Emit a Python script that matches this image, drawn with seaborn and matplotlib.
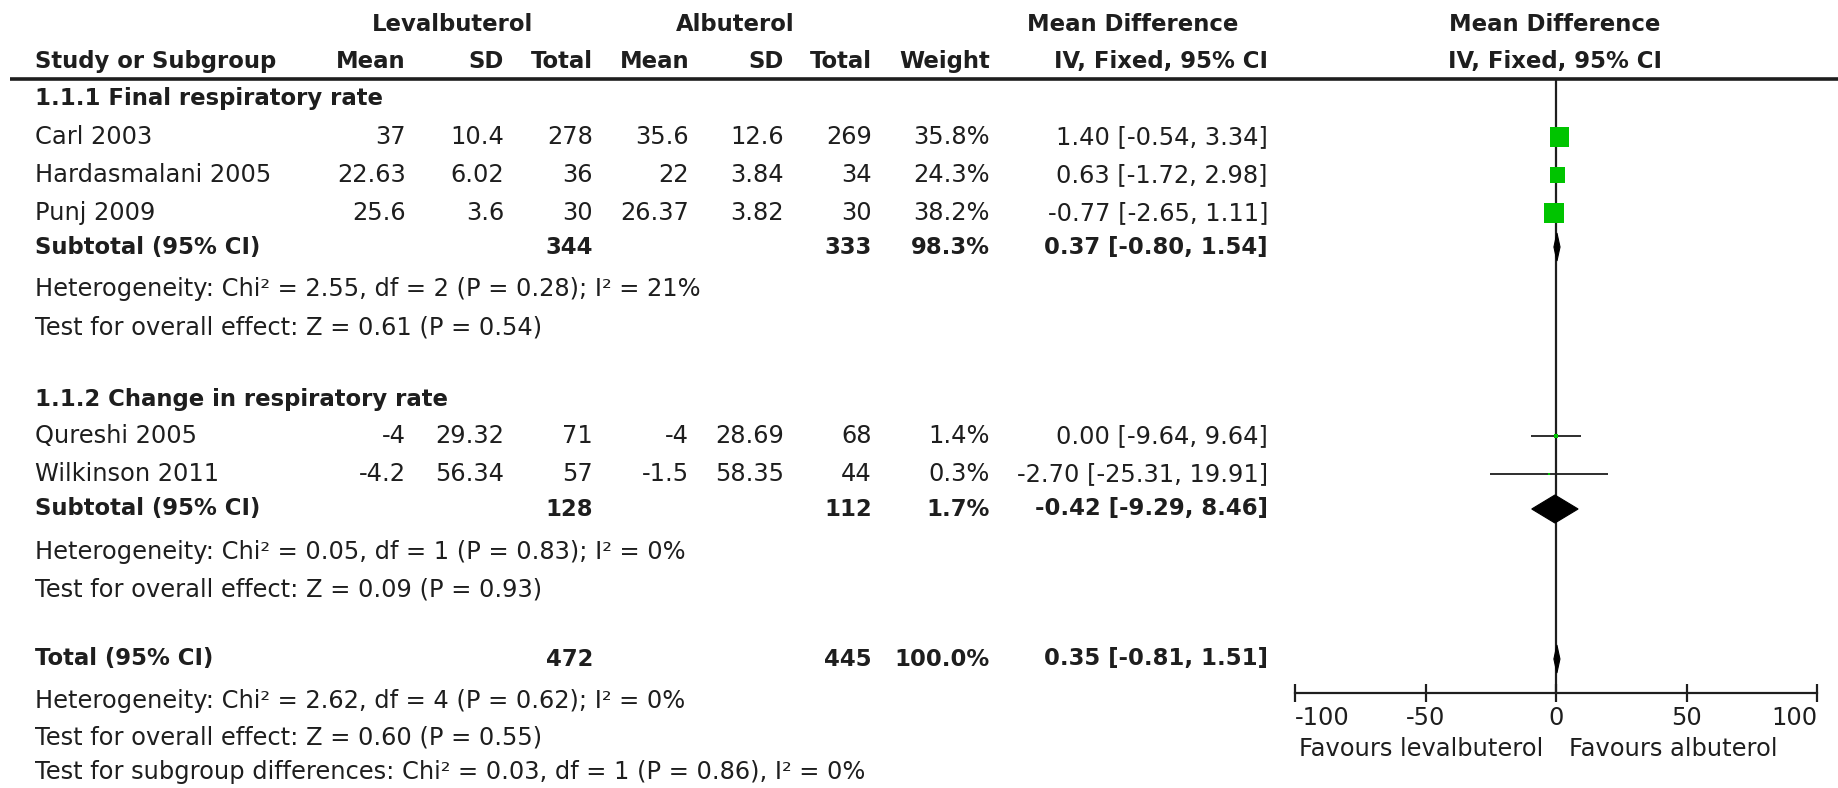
import matplotlib
matplotlib.use('Agg')
import matplotlib.pyplot as plt
import seaborn as sns
import numpy as np
import pandas as pd

# Study level data
studies = ['Carl 2003', 'Hardasmalani 2005', 'Punj 2009', 'Qureshi 2005', 'Wilkinson 2011']
subgroup = [0, 0, 0, 1, 1]
lev_mean = [37, 22.63, 25.6, -4, -4.2]
lev_sd = [10.4, 6.02, 3.6, 29.32, 56.34]
lev_n = [278, 36, 30, 71, 57]
alb_mean = [35.6, 22, 26.37, -4, -1.5]
alb_sd = [12.6, 3.84, 3.82, 28.69, 58.35]
alb_n = [269, 34, 30, 68, 44]
weight = [35.8, 24.3, 38.2, 1.4, 0.3]
md = [1.40, 0.63, -0.77, 0.00, -2.70]
md_lo = [-0.54, -1.72, -2.65, -9.64, -25.31]
md_hi = [3.34, 2.98, 1.11, 9.64, 19.91]

# Subgroup and overall pooled results
group_names = ['1.1.1 Final respiratory rate', '1.1.2 Change in respiratory rate']
sub_lev_n = [344, 128]
sub_alb_n = [333, 112]
sub_weight = [98.3, 1.7]
sub_md = [0.37, -0.42]
sub_lo = [-0.80, -9.29]
sub_hi = [1.54, 8.46]
sub_het = ['Heterogeneity: Chi² = 2.55, df = 2 (P = 0.28); I² = 21%',
           'Heterogeneity: Chi² = 0.05, df = 1 (P = 0.83); I² = 0%']
sub_test = ['Test for overall effect: Z = 0.61 (P = 0.54)',
            'Test for overall effect: Z = 0.09 (P = 0.93)']

tot_lev_n = 472
tot_alb_n = 445
tot_weight = 100.0
tot_md = 0.35
tot_lo = -0.81
tot_hi = 1.51
tot_notes = ['Heterogeneity: Chi² = 2.62, df = 4 (P = 0.62); I² = 0%',
             'Test for overall effect: Z = 0.60 (P = 0.55)',
             'Test for subgroup differences: Chi² = 0.03, df = 1 (P = 0.86), I² = 0%']

xticks = [-100, -50, 0, 50, 100]
favours = ['Favours levalbuterol', 'Favours albuterol']

sns.set_theme(style='white')
plt.rcParams['font.family'] = ['DejaVu Sans']
plt.rcParams['axes.unicode_minus'] = False

W, H = 1838, 788
fig = plt.figure(figsize=(W / 100, H / 100), dpi=100)
ax = fig.add_axes([0, 0, 1, 1])
ax.set_xlim(0, W)
ax.set_ylim(H, 0)
ax.axis('off')

txt = '#1e1e1e'
green = '#00c400'
fs = 17.4
fsb = 16.4

# layout (pixel positions of table columns and rows)
x_name = 35
col_right = [406, 504, 593, 689, 784, 872, 990, 1268]
y_head1, y_head2, y_rule = 24, 61, 79
group_rows = [
    {'head': 98, 'studies': [137, 175, 213], 'sub': 247, 'het': 289, 'test': 327},
    {'head': 399, 'studies': [436, 474], 'sub': 509, 'het': 552, 'test': 589},
]
y_total = 659
y_tot_notes = [701, 737, 772]

# headers
bold = dict(fontsize=fsb, fontweight='bold', color=txt, va='center')
ax.text(453, y_head1, 'Levalbuterol', ha='center', **bold)
ax.text(735, y_head1, 'Albuterol', ha='center', **bold)
ax.text(1133, y_head1, 'Mean Difference', ha='center', **bold)
ax.text(1555, y_head1, 'Mean Difference', ha='center', **bold)
ax.text(x_name, y_head2, 'Study or Subgroup', ha='left', **bold)
for x, lab in zip(col_right, ['Mean', 'SD', 'Total', 'Mean', 'SD', 'Total', 'Weight',
                              'IV, Fixed, 95% CI']):
    ax.text(x, y_head2, lab, ha='right', **bold)
ax.text(1555, y_head2, 'IV, Fixed, 95% CI', ha='center', **bold)
ax.plot([10, W], [y_rule, y_rule], color=txt, lw=2.6, solid_capstyle='butt')

reg = dict(fontsize=fs, color=txt, va='center')


def ci_text(m, lo, hi):
    return f'{m:.2f} [{lo:.2f}, {hi:.2f}]'


study_y = []
sub_y = []
for g, rows in enumerate(group_rows):
    ax.text(x_name, rows['head'], group_names[g], ha='left', **bold)
    idx = [i for i, s in enumerate(subgroup) if s == g]
    for i, y in zip(idx, rows['studies']):
        study_y.append(y)
        vals = [f'{lev_mean[i]:g}', f'{lev_sd[i]:g}', f'{lev_n[i]}',
                f'{alb_mean[i]:g}', f'{alb_sd[i]:g}', f'{alb_n[i]}',
                f'{weight[i]:.1f}%', ci_text(md[i], md_lo[i], md_hi[i])]
        ax.text(x_name, y, studies[i], ha='left', **reg)
        for x, v in zip(col_right, vals):
            ax.text(x, y, v, ha='right', **reg)
    ys = rows['sub']
    sub_y.append(ys)
    ax.text(x_name, ys, 'Subtotal (95% CI)', ha='left', **bold)
    ax.text(col_right[2], ys, f'{sub_lev_n[g]}', ha='right', **bold)
    ax.text(col_right[5], ys, f'{sub_alb_n[g]}', ha='right', **bold)
    ax.text(col_right[6], ys, f'{sub_weight[g]:.1f}%', ha='right', **bold)
    ax.text(col_right[7], ys, ci_text(sub_md[g], sub_lo[g], sub_hi[g]), ha='right', **bold)
    ax.text(x_name, rows['het'], sub_het[g], ha='left', **reg)
    ax.text(x_name, rows['test'], sub_test[g], ha='left', **reg)

ax.text(x_name, y_total, 'Total (95% CI)', ha='left', **bold)
ax.text(col_right[2], y_total, f'{tot_lev_n}', ha='right', **bold)
ax.text(col_right[5], y_total, f'{tot_alb_n}', ha='right', **bold)
ax.text(col_right[6], y_total, f'{tot_weight:.1f}%', ha='right', **bold)
ax.text(col_right[7], y_total, ci_text(tot_md, tot_lo, tot_hi), ha='right', **bold)
for y, note in zip(y_tot_notes, tot_notes):
    ax.text(x_name, y, note, ha='left', **reg)

# forest panel: x in mean difference units, y shares the pixel rows
x0, x1, y_axis = 1295, 1817, 693
fax = fig.add_axes([x0 / W, (H - y_axis) / H, (x1 - x0) / W, (y_axis - y_rule) / H])
fax.set_xlim(-100, 100)
fax.set_ylim(y_axis, y_rule)
fax.patch.set_alpha(0)
for side in ['top', 'right', 'left']:
    fax.spines[side].set_visible(False)
fax.spines['bottom'].set_color(txt)
fax.spines['bottom'].set_linewidth(1.6)
fax.set_yticks([])
fax.set_xticks(xticks)
fax.set_xticklabels([f'{t}' for t in xticks])
fax.tick_params(axis='x', direction='inout', length=13, width=1.6, color=txt,
                labelsize=fs, labelcolor=txt, pad=3, bottom=True)
labs = fax.get_xticklabels()
labs[0].set_ha('left')
labs[-1].set_ha('right')
fax.axvline(0, color=txt, lw=1.6, zorder=1)

df = pd.DataFrame({'md': md, 'lo': md_lo, 'hi': md_hi, 'w': weight, 'y': study_y})
fax.hlines(df['y'], df['lo'], df['hi'], color=txt, lw=1.3, zorder=2)
sns.scatterplot(data=df, x='md', y='y', size='w', sizes=(1.6, 200), size_norm=(0.3, 38.2),
                marker='s', color=green, edgecolor='none', legend=False, ax=fax, zorder=3)
fax.set_xlabel('')
fax.set_ylabel('')

half_h = 14
for m, lo, hi, y in zip(sub_md + [tot_md], sub_lo + [tot_lo], sub_hi + [tot_hi],
                        sub_y + [y_total]):
    fax.fill([lo, m, hi, m], [y, y - half_h, y, y + half_h], color='black', lw=0.8,
             ec='black', zorder=4)

fax.text(-5, 749, favours[0], ha='right', va='center', fontsize=fs, color=txt, clip_on=False)
fax.text(5, 749, favours[1], ha='left', va='center', fontsize=fs, color=txt, clip_on=False)

fig.savefig('out.png', dpi=100, facecolor='white')
